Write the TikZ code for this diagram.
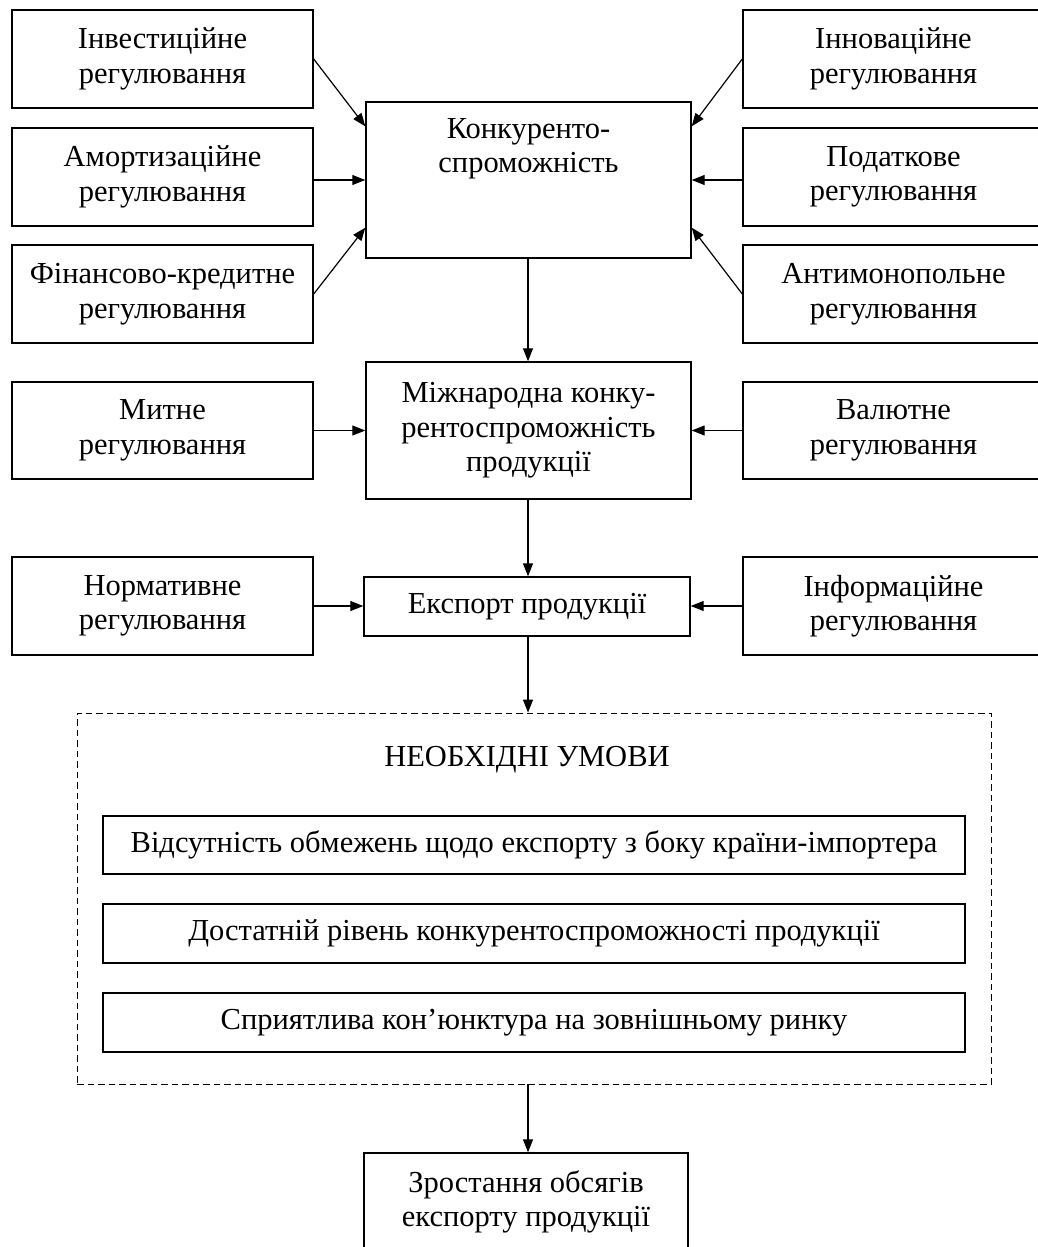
\documentclass[tikz,border=0pt]{standalone}
\usepackage{fontspec}
\setmainfont{Liberation Serif}
\usetikzlibrary{arrows.meta}
\newcommand\dgfont{\fontsize{30.5}{34.5}\selectfont}
\begin{document}
\begin{tikzpicture}[x=1pt,y=-1pt,
  box/.style={draw, line width=1.4pt, inner sep=0pt, align=center, font=\dgfont},
  side/.style={box, minimum width=301pt, minimum height=98pt},
  txt/.style={inner sep=0pt, align=center, font=\dgfont},
  arr/.style={line width=1.2pt, -{Triangle[length=13pt,width=10pt]}},
  dashbox/.style={draw, line width=0.9pt, dash pattern=on 6.5pt off 4pt}]
\useasboundingbox (0,0) rectangle (1038,1247);
\clip (0,0) rectangle (1038,1247);
\coordinate (axis) at (528,0);
% left column
\node[side] (inv)   at (162.5,59)  {Інвестиційне\\регулювання};
\node[side] (amort) at (162.5,177) {Амортизаційне\\регулювання};
\node[side] (fin)   at (162.5,294) {Фінансово-кредитне\\регулювання};
\node[side, minimum height=97pt] (mytne) at (162.5,430.5) {Митне\\регулювання};
\node[side] (norm)  at (162.5,606) {Нормативне\\регулювання};
% right column
\node[side] (innov) at (893.5,59)  {Інноваційне\\регулювання};
\node[side] (podat) at (893.5,177) {Податкове\\регулювання};
\node[side] (anti)  at (893.5,294) {Антимонопольне\\регулювання};
\node[side, minimum height=97pt] (valut) at (893.5,430.5) {Валютне\\регулювання};
\node[side] (inform) at (893.5,606) {Інформаційне\\регулювання};
% centre column
\node[box, minimum width=325pt, minimum height=156pt] (konk) at (528.5,180) {};
\node[txt] (konktxt) at (528.5,149) {Конкуренто-\\спроможність};
\node[box, minimum width=325pt, minimum height=137pt] (mizh) at (528.5,430.5)
  {Міжнародна конку-\\рентоспроможність\\продукції};
\node[box, minimum width=326pt, minimum height=59pt] (eksp) at (527,606.5) {Експорт продукції};
% conditions
\node[dashbox, minimum width=914pt, minimum height=371pt, inner sep=0pt] (cond) at (534,898.5) {};
\node[txt] (title) at (527,760) {НЕОБХІДНІ УМОВИ};
\node[box, minimum width=862pt, minimum height=58pt] (c1) at (534,845)
  {Відсутність обмежень щодо експорту з боку країни-імпортера};
\node[box, minimum width=862pt, minimum height=59pt] (c2) at (534,933.5)
  {Достатній рівень конкурентоспроможності продукції};
\node[box, minimum width=862pt, minimum height=59pt] (c3) at (534,1022.5)
  {Сприятлива кон’юнктура на зовнішньому ринку};
\node[box, minimum width=324pt, minimum height=98pt] (final) at (526,1202)
  {Зростання обсягів\\експорту продукції};
% arrows into konk
\draw[arr] (inv.east) -- ([yshift=-25pt]konk.north west);
\draw[arr] (konk.west -| amort.east) -- (konk.west);
\draw[arr] (fin.east) -- ([yshift=31pt]konk.south west);
\draw[arr] (innov.west) -- ([yshift=-25pt]konk.north east);
\draw[arr] (konk.east -| podat.west) -- (konk.east);
\draw[arr] (anti.west) -- ([yshift=31pt]konk.south east);
% side arrows
\draw[arr] (mytne.east) -- (mizh.west);
\draw[arr] (valut.west) -- (mizh.east);
\draw[arr] (norm.east) -- (norm.east -| eksp.west);
\draw[arr] (inform.west) -- (inform.west -| eksp.east);
% vertical chain
\draw[arr] (konk.south -| axis) -- (mizh.north -| axis);
\draw[arr] (mizh.south -| axis) -- (eksp.north -| axis);
\draw[arr] (eksp.south -| axis) -- (cond.north -| axis);
\draw[arr] (cond.south -| axis) -- (final.north -| axis);
\end{tikzpicture}
\end{document}
